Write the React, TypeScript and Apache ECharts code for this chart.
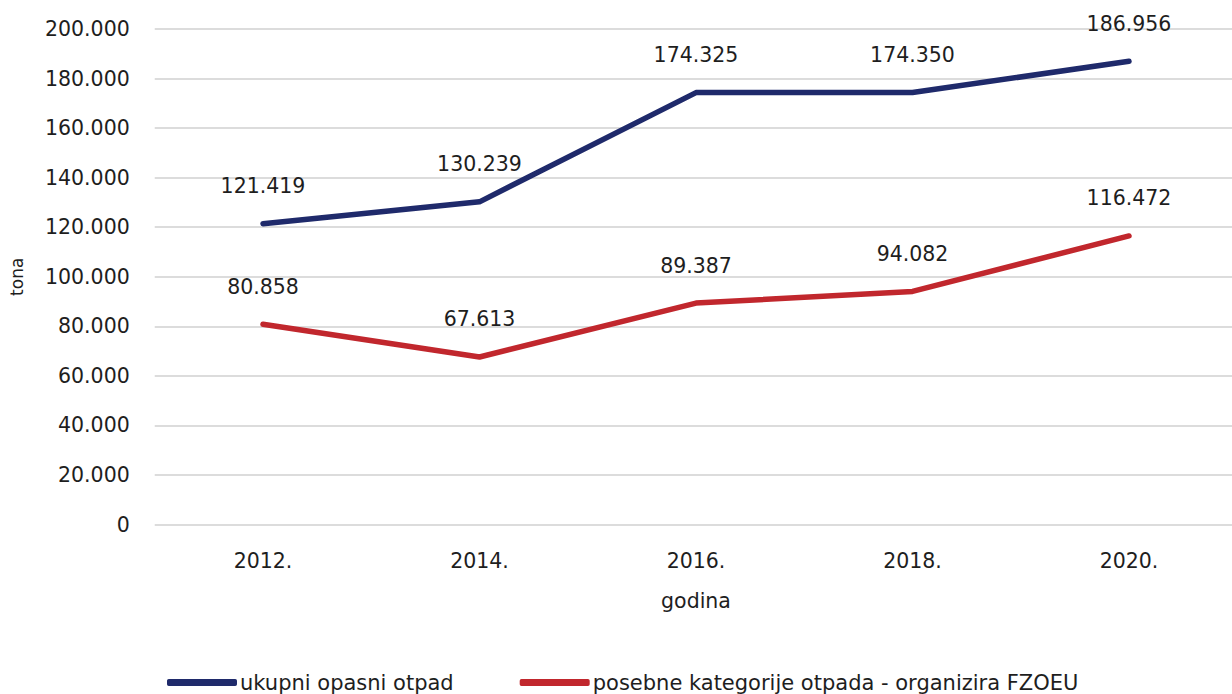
import React, { useEffect, useRef } from "react";
import * as echarts from "echarts";

const categories = ["2012.", "2014.", "2016.", "2018.", "2020."];
const ukupniOpasniOtpad = [121419, 130239, 174325, 174350, 186956];
const posebneKategorije = [80858, 67613, 89387, 94082, 116472];
const seriesNames = ["ukupni opasni otpad", "posebne kategorije otpada - organizira FZOEU"];
const colors = ["#1f2a6b", "#c1272d"];

const fmt = (v: number) => {
  if (v === 0) return "0";
  const s = Math.round(v).toString();
  return s.replace(/\B(?=(\d{3})+(?!\d))/g, ".");
};

const FONT = "DejaVu Sans";
const TEXT = "#1e1e1e";
const FS = 20.5;

export default function App() {
  const ref = useRef<HTMLDivElement>(null);
  useEffect(() => {
    if (!ref.current) return;
    const chart = echarts.init(ref.current, undefined, { renderer: "svg" });
    const mkSeries = (name: string, data: number[], color: string) => ({
      name,
      type: "line",
      data,
      symbol: "circle",
      symbolSize: 2,
      showSymbol: true,
      itemStyle: { color },
      lineStyle: { color, width: 5.5, cap: "round", join: "round" },
      label: {
        show: true,
        position: "top",
        distance: 26,
        color: TEXT,
        fontFamily: FONT,
        fontSize: FS,
        formatter: (p: any) => fmt(p.value),
      },
    });
    chart.setOption({
      animation: false,
      backgroundColor: "#ffffff",
      grid: {
        left: 154.75,
        width: 1082.5,
        top: 29,
        bottom: 694 - 524.5,
        containLabel: false,
        outerBoundsMode: "none",
      },
      legend: {
        left: 162,
        top: 667,
        itemWidth: 70,
        itemHeight: 7,
        itemGap: 66,
        icon: "roundRect",
        textStyle: { color: TEXT, fontFamily: FONT, fontSize: 21, padding: [0, 0, 0, -2] },
        data: [
          { name: seriesNames[0], itemStyle: { color: colors[0] } },
          { name: seriesNames[1], itemStyle: { color: colors[1] } },
        ],
      },
      xAxis: {
        type: "category",
        data: categories,
        boundaryGap: true,
        name: "godina",
        nameLocation: "middle",
        nameGap: 66,
        nameTextStyle: { color: TEXT, fontFamily: FONT, fontSize: FS },
        axisLine: { show: false },
        axisTick: { show: false },
        axisLabel: { color: TEXT, fontFamily: FONT, fontSize: FS, margin: 26 },
      },
      yAxis: {
        type: "value",
        min: 0,
        max: 200000,
        interval: 20000,
        name: "tona",
        nameLocation: "middle",
        nameRotate: 90,
        nameGap: 129,
        nameTextStyle: { color: TEXT, fontFamily: FONT, fontSize: 17 },
        axisLine: { show: false },
        axisTick: { show: false },
        axisLabel: { color: TEXT, fontFamily: FONT, fontSize: FS, margin: 25, formatter: fmt },
        splitLine: { lineStyle: { color: "#dcdcdc", width: 2 } },
      },
      series: [
        mkSeries(seriesNames[0], ukupniOpasniOtpad, colors[0]),
        mkSeries(seriesNames[1], posebneKategorije, colors[1]),
      ],
    });
    return () => chart.dispose();
  }, []);
  return (
    <div
      ref={ref}
      style={{ position: "fixed", left: 0, top: 0, width: 1232, height: 694, background: "#fff" }}
    />
  );
}
